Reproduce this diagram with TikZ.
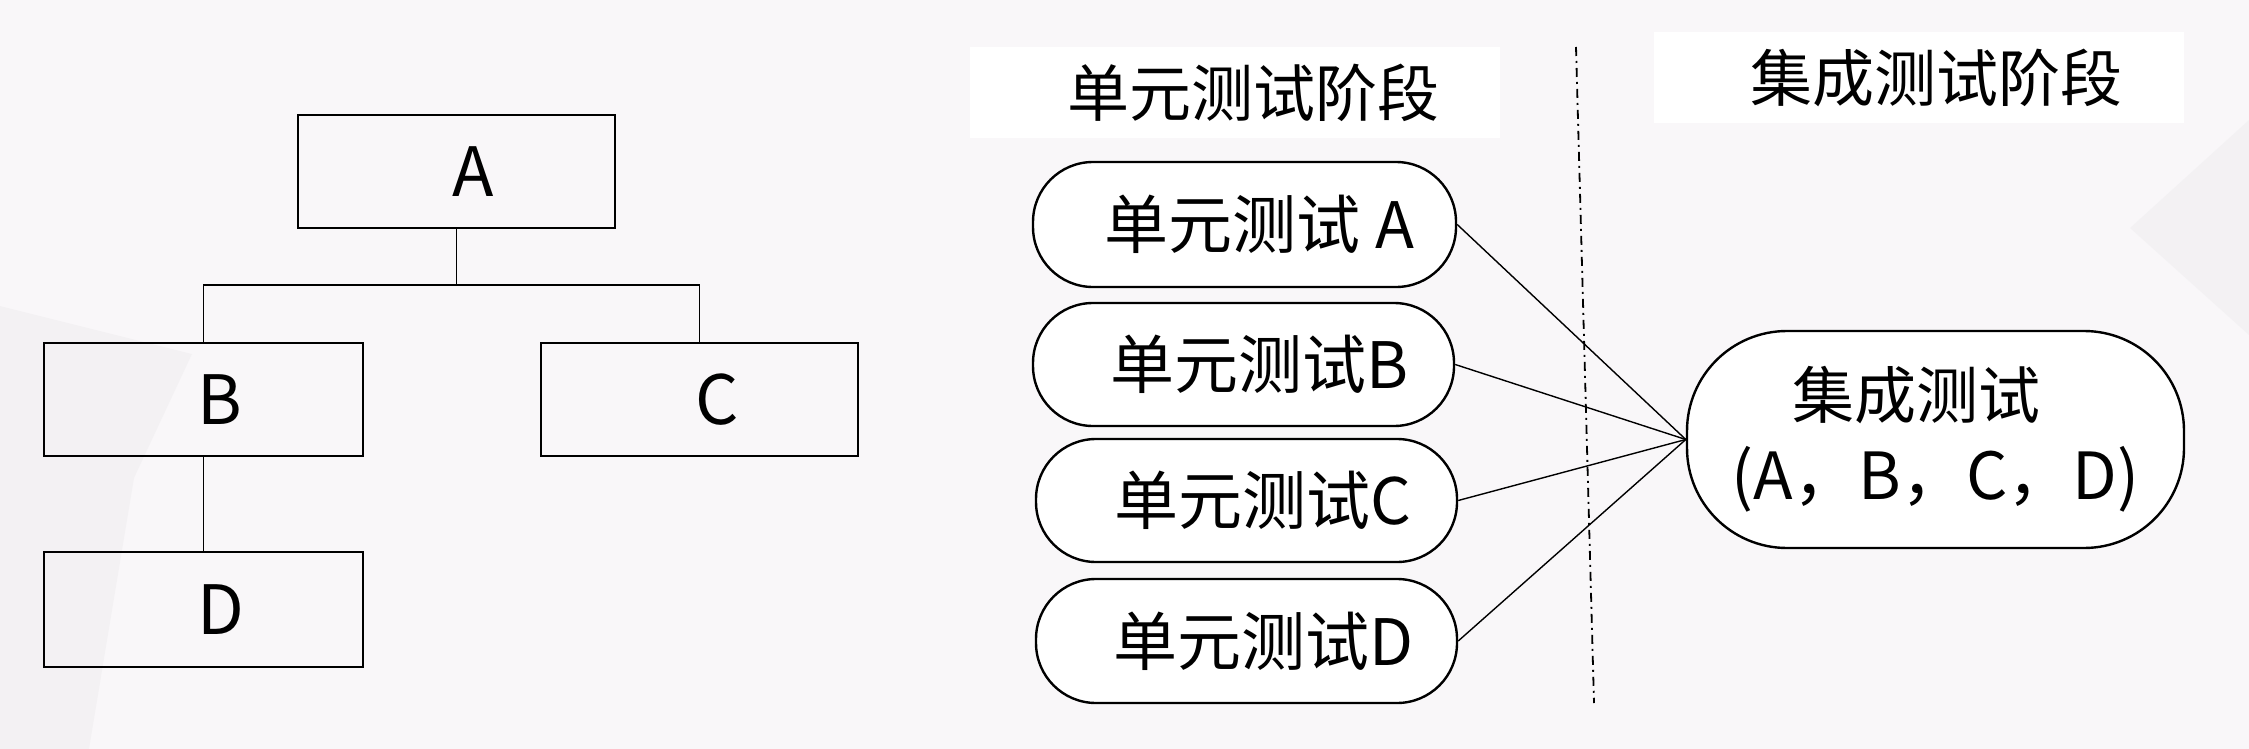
\documentclass[tikz,border=0pt]{standalone}
\usepackage{fontspec}
\setmainfont{Noto Sans CJK SC}
\definecolor{bgcol}{RGB}{249,247,249}
\definecolor{bgdark}{RGB}{238,237,239}
\begin{document}
\begin{tikzpicture}[x=0.5pt,y=-0.5pt,
  box/.style={draw=black,line width=1pt,fill=none,inner sep=0pt,font=\fontsize{34}{40}\selectfont},
  pill/.style={draw=black,line width=1.2pt,fill=white,inner sep=0pt,minimum width=210.5pt,minimum height=61.5pt,rounded corners=30pt,font=\fontsize{32}{38}\selectfont},
  titlebox/.style={fill=white,inner sep=0pt,minimum width=265pt,minimum height=45.5pt,font=\fontsize{31}{37}\selectfont},
  tree/.style={draw=black,line width=0.8pt},
  link/.style={draw=black,line width=0.7pt},
  divider/.style={draw=black,line width=0.9pt,dash pattern=on 4.5pt off 2.5pt on 1pt off 2.5pt}]
\useasboundingbox (0,0) rectangle (2249,749);
\fill[bgcol] (0,0) rectangle (2249,749);
\fill[bgdark,opacity=0.5] (0,306) -- (192,354) -- (134,478) -- (89,749) -- (0,749) -- cycle;
\fill[bgdark,opacity=0.5] (2249,120) -- (2130,228) -- (2249,335) -- cycle;
% tree
\node[box,minimum width=158.5pt,minimum height=56.5pt] (A) at (456.5,171.5) {\hspace*{17pt}A};
\node[box,minimum width=159.5pt,minimum height=56.5pt] (B) at (203.5,399.5) {\hspace*{16pt}B};
\node[box,minimum width=158.5pt,minimum height=56.5pt] (C) at (699.5,399.5) {\hspace*{18pt}C};
\node[box,minimum width=159.5pt,minimum height=57.5pt] (D) at (203.5,609.5) {\hspace*{17pt}D};
\coordinate (j) at (456.5,285);
\draw[tree] (A.south) -- (j);
\draw[tree] (B.north) |- (j) -| (C.north);
\draw[tree] (B.south) -- (D.north);
% titles
\node[titlebox] (T1) at (1235,92.5) {\hspace*{18pt}单元测试阶段};
\node[titlebox] (T2) at (1919,77.5) {\hspace*{17pt}集成测试阶段};
% divider
\coordinate (d1) at (1576,47);
\coordinate (d2) at (1594,703);
\draw[divider] (d1) -- (d2);
% unit tests
\node[pill,minimum width=211.5pt,minimum height=62.5pt] (S1) at (1244.5,224.5) {\hspace*{15pt}单元测试 A};
\node[pill] (S2) at (1243.5,364.5) {\hspace*{16pt}单元测试B};
\node[pill] (S3) at (1246.5,500.5) {\hspace*{16pt}单元测试C};
\node[pill,minimum height=62pt] (S4) at (1246.5,641) {\hspace*{17pt}单元测试D};
% integration
\node[draw=black,line width=1.2pt,fill=white,inner sep=0pt,minimum width=248.5pt,minimum height=108.5pt,rounded corners=50pt,align=center,font=\fontsize{31}{40.5}\selectfont] (I) at (1935.5,439.5) {集成测试\hspace*{19pt}\\{\fontsize{32.5}{40.5}\selectfont(A，B，C，D)}};
\draw[link] (S1.east) -- (I.west);
\draw[link] (S2.east) -- (I.west);
\draw[link] (S3.east) -- (I.west);
\draw[link] (S4.east) -- (I.west);
\end{tikzpicture}
\end{document}
